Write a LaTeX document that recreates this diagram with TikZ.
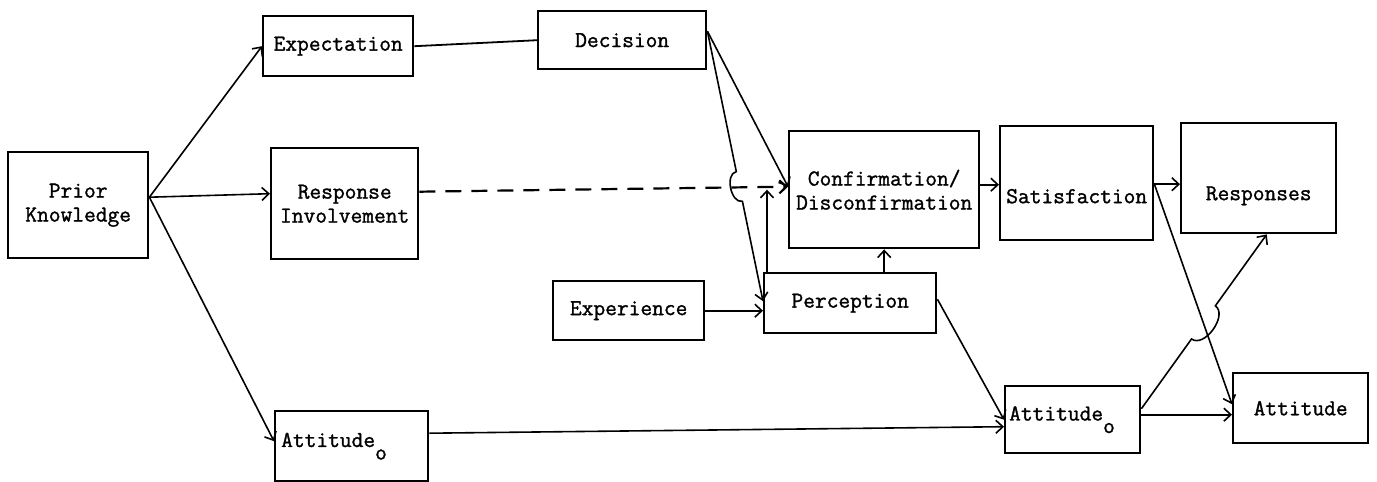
\documentclass[tikz,border=0pt]{standalone}
\usepackage{fontspec}
\usepackage{tikz}
\usetikzlibrary{arrows.meta,calc}
\newfontfamily\typew{Latin Modern Mono}[FakeBold=1.3]
\newcommand{\subo}{\raisebox{-0.55em}{o}}

\begin{document}
\begin{tikzpicture}[
x=1pt,y=-1pt,
blk/.style={
  draw,
  line width=2.4pt,
  inner sep=0pt,
  anchor=north west,
  align=center,
  font=\fontsize{22.8}{24}\selectfont\typew
},
conn/.style={
  line width=1.6pt,
  -{Straight Barb[length=7pt,width=13pt]}
}
]
\useasboundingbox (0,0) rectangle (1377,482);
\node[blk,minimum width=140pt,minimum height=106pt] at (7,151)
  (prior) {Prior\\Knowledge};
\node[blk,minimum width=150pt,minimum height=60pt] at (262,15)
  (expect) {Expectation};
\node[blk,minimum width=147pt,minimum height=111pt] at (270,147)
  (resp) {Response\\Involvement};
\node[blk,minimum width=153pt,minimum height=70pt,text width=141pt,align=left] at (274,410)
  (atto) {Attitude\subo};
\node[blk,minimum width=168pt,minimum height=58pt] at (537,10)
  (decis) {Decision};
\node[blk,minimum width=151pt,minimum height=59pt] at (552,280)
  (exper) {Experience};
\node[blk,minimum width=172pt,minimum height=60pt] at (763,272)
  (perc) {Perception};
\node[blk,minimum width=190pt,minimum height=117pt] at (788,130)
  (conf) {Confirmation/\\Disconfirmation};
\node[blk,minimum width=153pt,minimum height=114pt,text height=40pt,text depth=0pt] at (999,125)
  (satis) {Satisfaction};
\node[blk,minimum width=155pt,minimum height=110pt,text height=44pt,text depth=0pt] at (1180,122)
  (rspn) {Responses};
\node[blk,minimum width=135pt,minimum height=67pt,text width=127pt,align=left] at (1004,385)
  (atto2) {Attitude\subo};
\node[blk,minimum width=135pt,minimum height=70pt] at (1232,372)
  (att) {Attitude};

\coordinate (pk) at ([yshift=8pt]prior.east);
\draw[conn] (pk) -- (expect.west);
\draw[conn] (pk) -- ([yshift=10pt]resp.west);
\draw[conn] (pk) -- ([yshift=5pt]atto.west);
\draw[line width=1.8pt] (expect.east) -- (decis.west);
\draw[conn,line width=2.2pt,dash pattern=on 16pt off 10pt] ([yshift=12pt]resp.east) -- ([yshift=3pt]conf.west);

\coordinate (d0) at ([yshift=9pt]decis.east);
\coordinate (p0) at ([yshift=2pt]perc.west);
\draw[conn] (d0) -- ([yshift=3pt]conf.west);
\draw[conn] (d0) -- ($(d0)!0.52!(p0)$) to[bend right=90] ($(d0)!0.63!(p0)$) -- (p0);

\draw[conn] (exper.east) -- (exper.east -| perc.west);
\draw[conn] ([xshift=4pt]perc.north west) -- ([xshift=4pt]perc.north west |- conf.west);
\draw[conn] (conf.south |- perc.north) -- (conf.south);
\draw[conn] ([yshift=4pt]perc.east) -- (atto2.west);
\draw[conn] ([yshift=13pt]atto.east) -- ([yshift=-7pt]atto2.west);

\draw[conn] ([yshift=5pt]conf.east) -- ([yshift=5pt]conf.east -| satis.west);
\draw[conn] ([yshift=-1pt]satis.east) -- ([yshift=-1pt]satis.east -| rspn.west);
\draw[conn] ([yshift=-1pt]satis.east) -- ([yshift=4pt]att.west);
\draw[conn] ([yshift=5pt]atto2.east) -- ([yshift=5pt]atto2.east -| att.west);

\coordinate (a0) at ([yshift=11pt]atto2.east);
\coordinate (r0) at ([xshift=8pt]rspn.south);
\draw[conn] (a0) -- ($(a0)!0.40!(r0)$) to[bend right=90] ($(a0)!0.59!(r0)$) -- (r0);
\end{tikzpicture}
\end{document}
